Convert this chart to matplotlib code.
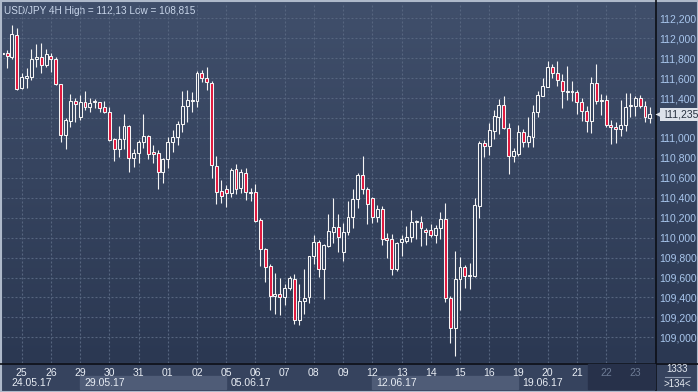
import matplotlib.pyplot as plt
import matplotlib.transforms as mtransforms
from matplotlib.colors import LinearSegmentedColormap
from matplotlib.patches import Rectangle
import numpy as np

# USD/JPY 4H candles, 24.05.17 - 23.06.17
opens = [111.840, 111.848, 111.815, 112.032, 111.497, 111.604, 111.614, 111.788, 111.815, 111.731,
         111.818, 111.788, 111.537, 111.026, 111.169, 111.370, 111.213, 111.357, 111.307, 111.360,
         111.357, 111.306, 111.256, 110.989, 110.885, 110.985, 111.119, 110.795, 110.845, 110.955,
         111.015, 110.855, 110.845, 110.661, 110.785, 110.962, 111.012, 111.136, 111.323, 111.370,
         111.370, 111.648, 111.598, 111.547, 110.715, 110.467, 110.484, 110.444, 110.685, 110.494,
         110.644, 110.450, 110.454, 110.173, 109.885, 109.714, 109.417, 109.430, 109.407, 109.491,
         109.581, 109.179, 109.367, 109.400, 109.818, 109.952, 109.681, 109.918, 110.052, 110.102,
         109.852, 110.052, 110.209, 110.383, 110.628, 110.484, 110.393, 110.203, 110.283, 109.995,
         109.982, 109.681, 109.952, 109.969, 110.009, 110.159, 110.156, 110.072, 110.072, 110.026,
         110.099, 110.183, 109.390, 109.089, 109.581, 109.708, 109.618, 109.618, 110.320, 110.945,
         110.922, 111.072, 111.213, 111.330, 111.096, 110.821, 110.835, 111.056, 110.962, 111.012,
         111.256, 111.423, 111.514, 111.708, 111.648, 111.574, 111.457, 111.457, 111.457, 111.357,
         111.266, 111.166, 111.547, 111.367, 111.377, 111.133, 111.106, 111.086, 111.126, 111.317,
         111.323, 111.397, 111.323, 111.203]
highs = [111.858, 111.882, 112.133, 112.099, 111.648, 111.698, 111.888, 111.942, 111.955, 111.888,
         111.855, 111.815, 111.537, 111.196, 111.440, 111.397, 111.430, 111.470, 111.397, 111.387,
         111.363, 111.370, 111.313, 111.002, 111.119, 111.240, 111.129, 110.885, 110.979, 111.240,
         111.029, 110.929, 110.878, 110.795, 111.012, 111.079, 111.169, 111.474, 111.480, 111.464,
         111.674, 111.681, 111.708, 111.571, 110.818, 110.577, 110.527, 110.694, 110.738, 110.685,
         110.694, 110.494, 110.537, 110.193, 109.898, 109.735, 109.641, 109.591, 109.531, 109.614,
         109.634, 109.534, 109.681, 109.818, 110.026, 109.975, 109.932, 110.236, 110.393, 110.236,
         110.142, 110.367, 110.484, 110.644, 110.818, 110.511, 110.403, 110.327, 110.317, 110.049,
         110.036, 109.959, 110.026, 110.116, 110.276, 110.176, 110.216, 110.092, 110.136, 110.126,
         110.260, 110.350, 109.414, 109.865, 109.808, 109.725, 109.741, 110.400, 110.969, 110.979,
         111.153, 111.280, 111.387, 111.420, 111.146, 110.902, 111.129, 111.089, 111.206, 111.330,
         111.470, 111.598, 111.771, 111.741, 111.771, 111.641, 111.721, 111.574, 111.480, 111.403,
         111.320, 111.614, 111.741, 111.440, 111.430, 111.180, 111.163, 111.380, 111.447, 111.447,
         111.420, 111.430, 111.373, 111.313]
lows = [111.830, 111.698, 111.788, 111.480, 111.490, 111.504, 111.581, 111.714, 111.648, 111.708,
        111.664, 111.531, 110.962, 110.885, 111.112, 111.162, 111.179, 111.280, 111.263, 111.296,
        111.263, 111.246, 110.972, 110.771, 110.812, 110.885, 110.661, 110.704, 110.751, 110.895,
        110.785, 110.745, 110.484, 110.544, 110.694, 110.862, 110.929, 111.062, 111.163, 111.263,
        111.313, 111.564, 111.480, 110.594, 110.333, 110.350, 110.303, 110.404, 110.434, 110.450,
        110.377, 110.370, 110.156, 109.714, 109.557, 109.273, 109.233, 109.223, 109.323, 109.474,
        109.139, 109.122, 109.233, 109.340, 109.735, 109.608, 109.380, 109.902, 109.942, 109.858,
        109.768, 110.026, 110.099, 110.300, 110.437, 110.136, 110.149, 110.159, 109.925, 109.791,
        109.624, 109.668, 109.815, 109.942, 109.959, 109.985, 109.918, 109.925, 110.009, 109.949,
        109.985, 109.357, 108.939, 108.815, 109.273, 109.497, 109.481, 109.608, 110.200, 110.812,
        110.828, 110.985, 111.039, 111.086, 110.637, 110.761, 110.818, 110.905, 110.905, 110.905,
        111.213, 111.423, 111.514, 111.598, 111.521, 111.296, 111.380, 111.373, 111.240, 111.173,
        111.062, 111.052, 111.340, 111.230, 111.113, 110.939, 110.952, 111.019, 111.072, 111.206,
        111.220, 111.296, 111.156, 111.146]
closes = [111.848, 111.821, 112.042, 111.487, 111.607, 111.617, 111.788, 111.808, 111.731, 111.838,
          111.788, 111.541, 111.026, 111.176, 111.370, 111.340, 111.357, 111.307, 111.347, 111.370,
          111.296, 111.256, 110.979, 110.885, 110.989, 111.119, 110.795, 110.845, 110.955, 111.015,
          110.838, 110.835, 110.661, 110.785, 110.962, 111.012, 111.136, 111.323, 111.377, 111.380,
          111.648, 111.598, 111.557, 110.728, 110.460, 110.417, 110.444, 110.675, 110.484, 110.654,
          110.454, 110.460, 110.169, 109.882, 109.708, 109.417, 109.430, 109.407, 109.494, 109.591,
          109.179, 109.367, 109.390, 109.818, 109.952, 109.681, 109.925, 110.062, 110.102, 110.009,
          110.052, 110.209, 110.383, 110.628, 110.484, 110.333, 110.203, 110.283, 109.989, 109.979,
          109.681, 109.942, 109.982, 110.009, 110.156, 110.169, 110.092, 110.052, 110.029, 110.092,
          110.183, 109.390, 109.089, 109.581, 109.701, 109.618, 109.624, 110.327, 110.945, 110.922,
          111.079, 111.220, 111.330, 111.102, 110.821, 110.868, 111.056, 110.962, 111.019, 111.256,
          111.430, 111.521, 111.708, 111.648, 111.581, 111.470, 111.470, 111.464, 111.357, 111.266,
          111.173, 111.547, 111.373, 111.380, 111.133, 111.106, 111.086, 111.126, 111.313, 111.327,
          111.397, 111.323, 111.206, 111.235]

day_labels = ['25', '26', '29', '30', '31', '01', '02', '05', '06', '07', '08',
              '09', '12', '13', '14', '15', '16', '19', '20', '21', '22', '23']
week_labels = ['24.05.17', '29.05.17', '05.06.17', '12.06.17', '19.06.17']
week_starts = [0, 16, 46, 76, 106]
price_ticks = np.arange(109.0, 112.21, 0.2)
title = 'USD/JPY 4H High = 112,13 Low = 108,815'

W, H = 698, 392
fig = plt.figure(figsize=(W / 100, H / 100), dpi=100)
fig.patch.set_facecolor('#36435e')

# background layer in pixel coordinates
bg = fig.add_axes([0, 0, 1, 1])
bg.set_xlim(0, W)
bg.set_ylim(H, 0)
bg.axis('off')
cmap = LinearSegmentedColormap.from_list('bg', ['#404f6b', '#2b3852'])
bg.imshow(np.linspace(0, 1, 256)[:, None], cmap=cmap, extent=[0, W, 363, 0], aspect='auto')
bg.add_patch(Rectangle((0, 363), W, 29, color='#36435e'))
bg.plot([0, W], [363.5, 363.5], color='#0c0f16', lw=1.2)
bg.plot([655.5, 655.5], [0, 390], color='#0c0f16', lw=1.2)
bg.text(677, 369.5, '1333', color='#e4e9f0', fontsize=7, ha='center', va='center',
        family='Liberation Sans')
bg.plot([665, 690], [377, 377], color='#8f9bb0', lw=0.8)
bg.text(677, 384, '>134<', color='#e4e9f0', fontsize=7, ha='center', va='center',
        family='Liberation Sans')
bg.add_patch(Rectangle((0.5, 0.5), W - 1, H - 1, fill=False, ec='#aeb9ca', lw=1.5))
bg.text(4, 11, title, color='#c9d6ea', fontsize=7.2, va='center', family='Liberation Sans')

ax = fig.add_axes([3 / W, 29 / H, 652 / W, 360 / H])
ax.set_facecolor('none')
for s in ax.spines.values():
    s.set_visible(False)

x = np.arange(len(opens))
o = np.array(opens)
c = np.array(closes)
top = np.maximum(o, c)
bot = np.minimum(o, c)
up = c >= o

ax.vlines(x, top, np.array(highs), color='#f4f4f4', lw=0.8, zorder=3)
ax.vlines(x, np.array(lows), bot, color='#f4f4f4', lw=0.8, zorder=3)
ax.bar(x, np.maximum(top - bot, 0.012), bottom=bot, width=0.6,
       color=np.where(up, '#36445f', '#e0173d'), edgecolor='#f4f4f4', linewidth=0.75, zorder=4)

ax.set_xlim(0.16, 134.05)
ax.set_ylim(108.743, 112.353)

day_pos = 4 + 6 * np.arange(len(day_labels))
ax.set_xticks(day_pos)
ax.set_xticklabels(day_labels, family='Liberation Sans')
ax.tick_params(axis='x', length=0, pad=3.5, labelsize=7.5, colors='#e8edf4')
for lbl in ax.get_xticklabels()[-2:]:
    lbl.set_color('#6d7b95')

# price labels; the one hidden behind the current-price tag is left blank
ax.yaxis.tick_right()
ax.set_yticks(price_ticks)
ylabels = [f'{v:.3f}'.replace('.', ',') for v in price_ticks]
ylabels = ['' if abs(v - closes[-1]) < 0.06 else s for v, s in zip(price_ticks, ylabels)]
ax.set_yticklabels(ylabels, family='Liberation Sans')
ax.tick_params(axis='y', length=0, pad=3, labelsize=7.5, colors='#a9c7ee')
ax.grid(True, color='#56657f', linestyle=(0, (1.8, 1.8)), linewidth=0.8, zorder=1)
ax.set_axisbelow(True)

# week row in the lower band
band = mtransforms.blended_transform_factory(ax.transData, ax.transAxes)
for i in (1, 3):
    start = week_starts[i]
    end = week_starts[i + 1]
    ax.add_patch(Rectangle((start, -0.0722), end - start, 0.0361, transform=band,
                           color='#4f5c77', clip_on=False, zorder=0))
ax.add_patch(Rectangle((120.2, -0.0722), 134.05 - 120.2, 0.0694, transform=band,
                       color='#27314a', clip_on=False, zorder=0))
txt_tr = mtransforms.offset_copy(band, fig=fig, x=4, y=0, units='dots')
for s, lbl in zip(week_starts, week_labels):
    ax.text(max(s, 1.0), -0.0556, lbl, transform=txt_tr, color='#e8edf4', fontsize=7.5,
            va='center', ha='left', family='Liberation Sans', clip_on=False)

# current price tag
tag = mtransforms.blended_transform_factory(ax.transAxes, ax.transData)
ax.text(1.0, closes[-1], f'{closes[-1]:.3f}'.replace('.', ','),
        transform=mtransforms.offset_copy(tag, fig=fig, x=7, y=0, units='dots'),
        color='#26303f', fontsize=7.5, va='center', ha='left', family='Liberation Sans',
        bbox=dict(boxstyle='square,pad=0.15', fc='#dde2ea', ec='none'), clip_on=False, zorder=10)
ax.plot([1.0], [closes[-1]], marker='<', ms=7, color='#dde2ea', mec='none',
        transform=mtransforms.offset_copy(tag, fig=fig, x=5, y=0, units='dots'),
        clip_on=False, zorder=10)

fig.savefig('out.png', dpi=100, facecolor=fig.get_facecolor())
